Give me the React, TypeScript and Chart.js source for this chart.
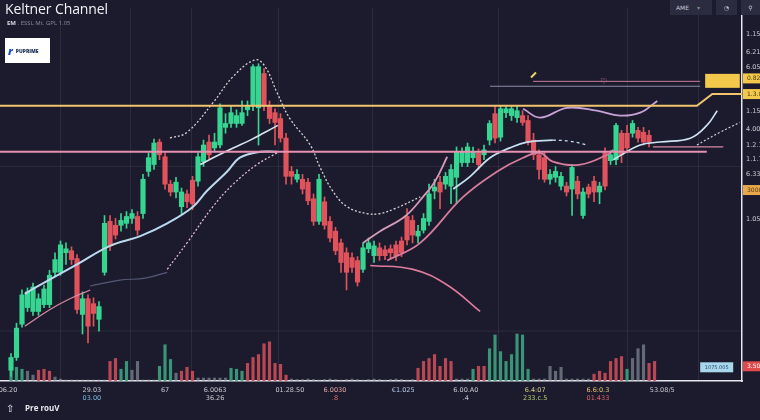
import React, { useEffect, useRef } from "react";
import { Chart, registerables } from "chart.js";
Chart.register(...registerables);

// ---------- candles (index = bar number) ----------
const openP = [
  1.030, 1.043, 1.077, 1.094, 1.090, 1.090, 1.097, 1.097, 1.130, 1.130,
  1.150, 1.152, 1.144, 1.087, 1.103, 1.098, 1.082, 1.130, 1.182, 1.178,
  1.178, 1.180, 1.185, 1.187, 1.190, 1.233, 1.240, 1.263, 1.248, 1.220,
  1.212, 1.197, 1.210, 1.224, 1.223, 1.243, 1.263, 1.257, 1.260, 1.278,
  1.282, 1.282, 1.282, 1.296, 1.300, 1.298, 1.333, 1.300, 1.293, 1.287,
  1.267, 1.233, 1.225, 1.225, 1.222, 1.205, 1.182, 1.202, 1.182, 1.172,
  1.160, 1.150, 1.145, 1.142, 1.133, 1.154, 1.147, 1.155, 1.153, 1.154,
  1.158, 1.162, 1.187, 1.183, 1.167, 1.173, 1.182, 1.213, 1.222, 1.220,
  1.218, 1.227, 1.242, 1.242, 1.247, 1.252, 1.250, 1.265, 1.292, 1.268,
  1.293, 1.290, 1.288, 1.290, 1.285, 1.265, 1.250, 1.247, 1.225, 1.227,
  1.218, 1.218, 1.215, 1.223, 1.188, 1.217, 1.223, 1.212, 1.252, 1.244,
  1.245, 1.272, 1.272, 1.272, 1.275, 1.273, 1.270,
];
const highP = [
  1.047, 1.078, 1.112, 1.114, 1.119, 1.108, 1.117, 1.132, 1.150, 1.162,
  1.160, 1.156, 1.148, 1.110, 1.107, 1.104, 1.100, 1.188, 1.188, 1.185,
  1.190, 1.192, 1.194, 1.192, 1.230, 1.252, 1.266, 1.266, 1.252, 1.224,
  1.227, 1.216, 1.214, 1.228, 1.252, 1.265, 1.270, 1.272, 1.302, 1.292,
  1.300, 1.296, 1.305, 1.305, 1.342, 1.343, 1.338, 1.305, 1.297, 1.292,
  1.272, 1.238, 1.235, 1.230, 1.226, 1.210, 1.230, 1.207, 1.187, 1.176,
  1.164, 1.155, 1.150, 1.146, 1.160, 1.165, 1.162, 1.160, 1.157, 1.158,
  1.162, 1.166, 1.195, 1.188, 1.178, 1.190, 1.220, 1.225, 1.228, 1.232,
  1.240, 1.258, 1.257, 1.262, 1.258, 1.256, 1.260, 1.285, 1.300, 1.300,
  1.300, 1.300, 1.300, 1.295, 1.290, 1.272, 1.255, 1.252, 1.235, 1.238,
  1.232, 1.222, 1.240, 1.228, 1.216, 1.220, 1.228, 1.222, 1.257, 1.254,
  1.282, 1.275, 1.280, 1.285, 1.278, 1.278, 1.275,
];
const lowP = [
  1.024, 1.040, 1.074, 1.090, 1.086, 1.086, 1.094, 1.094, 1.126, 1.127,
  1.138, 1.138, 1.088, 1.067, 1.058, 1.075, 1.070, 1.127, 1.152, 1.164,
  1.172, 1.175, 1.180, 1.168, 1.185, 1.228, 1.235, 1.245, 1.215, 1.208,
  1.206, 1.190, 1.196, 1.194, 1.218, 1.238, 1.246, 1.253, 1.257, 1.272,
  1.278, 1.278, 1.280, 1.290, 1.295, 1.260, 1.295, 1.282, 1.260, 1.263,
  1.220, 1.220, 1.222, 1.210, 1.199, 1.178, 1.179, 1.174, 1.161, 1.148,
  1.130, 1.112, 1.130, 1.116, 1.130, 1.150, 1.140, 1.142, 1.143, 1.144,
  1.142, 1.146, 1.158, 1.160, 1.160, 1.170, 1.178, 1.205, 1.195, 1.215,
  1.200, 1.200, 1.238, 1.238, 1.242, 1.235, 1.245, 1.260, 1.262, 1.264,
  1.288, 1.285, 1.283, 1.280, 1.260, 1.245, 1.225, 1.222, 1.220, 1.222,
  1.214, 1.208, 1.188, 1.205, 1.185, 1.206, 1.202, 1.200, 1.214, 1.240,
  1.240, 1.242, 1.252, 1.268, 1.263, 1.260, 1.258,
];
const closeP = [
  1.043, 1.073, 1.107, 1.110, 1.115, 1.103, 1.113, 1.127, 1.143, 1.158,
  1.154, 1.143, 1.092, 1.103, 1.075, 1.088, 1.095, 1.180, 1.157, 1.168,
  1.183, 1.187, 1.190, 1.173, 1.225, 1.247, 1.262, 1.250, 1.220, 1.212,
  1.222, 1.212, 1.202, 1.200, 1.248, 1.260, 1.250, 1.263, 1.298, 1.282,
  1.293, 1.290, 1.293, 1.300, 1.340, 1.340, 1.300, 1.287, 1.283, 1.267,
  1.228, 1.228, 1.230, 1.215, 1.203, 1.182, 1.225, 1.178, 1.165, 1.152,
  1.140, 1.130, 1.135, 1.120, 1.155, 1.160, 1.157, 1.147, 1.147, 1.150,
  1.147, 1.150, 1.163, 1.168, 1.172, 1.185, 1.210, 1.217, 1.212, 1.228,
  1.235, 1.253, 1.253, 1.258, 1.253, 1.240, 1.255, 1.282, 1.267, 1.297,
  1.297, 1.297, 1.295, 1.283, 1.263, 1.250, 1.235, 1.225, 1.230, 1.233,
  1.228, 1.212, 1.237, 1.210, 1.212, 1.210, 1.212, 1.218, 1.218, 1.250,
  1.280, 1.250, 1.257, 1.282, 1.267, 1.263, 1.263,
];

// ---------- volume ----------
const volume = [
  230, 140, 120, 100, 60, 110, 120, 100, 40, 20,
  10, 10, 10, 10, 10, 10, 10, 10, 200, 230,
  120, 200, 110, 200, 10, 10, 10, 150, 370, 220,
  80, 100, 140, 100, 30, 30, 30, 30, 30, 30,
  130, 120, 100, 180, 240, 270, 380, 400, 180, 170,
  60, 20, 15, 15, 20, 15, 10, 15, 20, 15,
  10, 15, 20, 15, 10, 15, 20, 15, 10, 15,
  20, 15, 10, 15, 130, 200, 230, 270, 150, 230,
  200, 20, 20, 20, 120, 150, 150, 330, 470, 300,
  200, 270, 480, 470, 120, 20, 20, 20, 150, 100,
  140, 20, 20, 20, 20, 20, 70, 100, 80, 200,
  230, 250, 120, 230, 330, 370, 180, 200,
];
const volumeTone =
  "GGGNNRRRNN" + "NNNNNNNNRR" + "GGNNNNNGGG" + "NRRRNNNNNN" +
  "GGGRRRRRRR" + "RNNNNNNNNN" + "NNNNNNNNNN" + "NNNNRRRRRR" +
  "RNNNGRRGGG" + "GGGGGNNNNN" + "NNNNNNRRRR" + "RRGNNNRR";

// ---------- channel / indicator lines [barIndex, price] ----------
const upperDotLeft = [[28.9, 1.267], [32, 1.273], [36.7, 1.303], [40.4, 1.330], [44.4, 1.347], [46.2, 1.340], [48.4, 1.313], [50.7, 1.287], [54.4, 1.260], [56.2, 1.237], [58.5, 1.213], [61.1, 1.197], [64.7, 1.190], [67.1, 1.190], [69.8, 1.195], [74.4, 1.207]];
const middleLeft = [[2.5, 1.108], [4, 1.113], [12, 1.138], [18, 1.157], [23.5, 1.167], [28.4, 1.180], [33.1, 1.197], [35.6, 1.213], [39.3, 1.233], [41.6, 1.247], [45.3, 1.253], [48.4, 1.253]];
const innerUpperLeft = [[34.4, 1.240], [37.1, 1.248], [40.4, 1.257], [43.5, 1.265], [46.2, 1.273], [48.5, 1.280]];
const lowerDotLeft = [[28.4, 1.133], [32, 1.160], [36.7, 1.197], [40.4, 1.220], [44.7, 1.240], [48.4, 1.252]];
const lowerPinkLeft = [[2.5, 1.075], [7.1, 1.092], [10.7, 1.103], [14.4, 1.112]];
const faintLeft = [[14.4, 1.116], [19.8, 1.122], [24.4, 1.124], [28.4, 1.130]];
const pinkRise = [[64, 1.160], [67.1, 1.172], [71.6, 1.187], [74.9, 1.207], [77.1, 1.223], [79.3, 1.248]];
const middleRight = [[80.4, 1.215], [83.5, 1.228], [87.1, 1.247], [90.7, 1.257], [93.8, 1.263], [98.5, 1.265]];
const middleRightDash = [[98.5, 1.265], [101.5, 1.264], [104.7, 1.260]];
const lowerPinkRight = [[68.4, 1.142], [74.4, 1.160], [82.2, 1.207], [88.4, 1.233], [93.1, 1.247], [96.2, 1.252], [98.5, 1.243], [103.5, 1.240], [108.4, 1.250], [109.5, 1.255]];
const upperRight = [[93.1, 1.297], [96.2, 1.288], [101.1, 1.298], [106.5, 1.295], [110.7, 1.290], [114.4, 1.293], [117.5, 1.305]];
const middleFarRight = [[109.5, 1.245], [114.4, 1.260], [118, 1.263], [123.5, 1.267], [126.5, 1.280], [128.4, 1.295]];
const dotFarRight = [[124.7, 1.260], [128.9, 1.273], [132.5, 1.283]];
const pinkArc = [[65.3, 1.137], [73.1, 1.133], [79.3, 1.117], [85.3, 1.090]];
const resistance = [[-2, 1.300], [124.7, 1.300], [127.5, 1.312], [132.9, 1.312]];
const support = [[-2, 1.253], [126.5, 1.253]];
const supportShort = [[116.7, 1.258], [129.5, 1.258]];
const topGrey = [[87.1, 1.320], [125.3, 1.320]];
const topPink = [[94.9, 1.325], [125.3, 1.325]];
const violetStub = [[127.5, 1.312], [132.9, 1.312]];
const faintRows = [1.238, 1.070];

// ---------- axes text ----------
const gridX = [15.3, 28, 37.6, 59.8, 71.6, 105.6, 118.5];
const yTickVals = [1.373, 1.355, 1.339, 1.294, 1.276, 1.260, 1.245, 1.230, 1.184];
const yTickText = ["1.1580", "6.2150", "6.0500", "1.1500", "4.0000", "1.2.150", "1.1.750", "6.3300", "1.0500"];
const xTickPos = [-0.7, 14.7, 28, 37.1, 50.7, 58.9, 71.3, 82.7, 95.3, 106.7, 118.4];
const xTickTop = ["06.20", "29.03", "67", "6.0063", "01.28.50", "6.0030", "€1.025", "6.00.A0", "6.4:07", "6.6:0.3", "53.08/5"];
const xTickBottom = ["", "03.00", "", "36.26", "", ".8", "", ".4", "233.c.5", "01.433", ""];
const xTopColor = ["#c8c8d2", "#c8c8d2", "#c8c8d2", "#c8c8d2", "#c8c8d2", "#e7a6a6", "#b9cbe6", "#c8c8d2", "#d6d08a", "#e8c070", "#c8c8d2"];
const xBottomColor = ["", "#7fb8e0", "", "#c8c8d2", "", "#e07070", "", "#c8c8d2", "#b8d070", "#e06060", ""];
const tagVals = [1.328, 1.312, 1.214, 1.034];
const tagText = ["0.82", "1.3.0", "3000", "3.500"];
const tagColor = ["#f3c84b", "#f3c84b", "#e9a84c", "#e04a4a"];
const boxSpan = [126.2, 132.5];
const boxPrice = 1.3255;
const infoBox = { from: 125.3, to: 131.3, price: 1.033, text: "1075.005" };
const pencilAt = [94.9, 1.332];
const heartAt = [107.8, 1.325];

const GREEN = "#37d592";
const RED = "#e0525c";
const toneColor = { G: "rgba(62,170,130,0.85)", R: "rgba(214,80,92,0.85)", N: "rgba(150,160,165,0.6)" };

const pts = (arr) => arr.map(([x, y]) => ({ x, y }));

const overlayPlugin = {
  id: "overlay",
  afterDatasetsDraw(chart) {
    const { ctx, scales } = chart;
    const xs = scales.x;
    const ys = scales.y;
    const right = chart.chartArea.right;
    ctx.save();
    const bx1 = xs.getPixelForValue(boxSpan[0]);
    const bx2 = xs.getPixelForValue(boxSpan[1]);
    const by = ys.getPixelForValue(boxPrice);
    ctx.fillStyle = "#f3c84b";
    ctx.fillRect(bx1, by - 7, bx2 - bx1, 14);
    const ix1 = xs.getPixelForValue(infoBox.from);
    const ix2 = xs.getPixelForValue(infoBox.to);
    const iy = ys.getPixelForValue(infoBox.price);
    ctx.fillStyle = "#a8d8ee";
    ctx.fillRect(ix1, iy - 5, ix2 - ix1, 10);
    ctx.fillStyle = "#2a4a66";
    ctx.font = "5px 'DejaVu Sans'";
    ctx.textAlign = "center";
    ctx.textBaseline = "middle";
    ctx.fillText(infoBox.text, (ix1 + ix2) / 2, iy);
    tagVals.forEach((v, i) => {
      const y = ys.getPixelForValue(v);
      ctx.fillStyle = tagColor[i];
      ctx.fillRect(right + 1, y - 5, 60, 10);
      ctx.fillStyle = i === 3 ? "#ffffff" : "#4a3a10";
      ctx.font = "6px 'DejaVu Sans'";
      ctx.textAlign = "left";
      ctx.fillText(tagText[i], right + 5, y + 0.5);
    });
    const px = xs.getPixelForValue(pencilAt[0]);
    const py = ys.getPixelForValue(pencilAt[1]);
    ctx.strokeStyle = "#f0d070";
    ctx.lineWidth = 2;
    ctx.beginPath();
    ctx.moveTo(px - 2, py + 3);
    ctx.lineTo(px + 3, py - 2);
    ctx.stroke();
    const hx = xs.getPixelForValue(heartAt[0]);
    const hy = ys.getPixelForValue(heartAt[1]);
    ctx.fillStyle = "#e0809e";
    ctx.font = "8px 'DejaVu Sans'";
    ctx.textAlign = "center";
    ctx.fillText("♡", hx, hy + 1);
    xTickPos.forEach((v, i) => {
      const x = xs.getPixelForValue(v);
      ctx.font = "6.5px 'DejaVu Sans'";
      ctx.textAlign = "center";
      ctx.fillStyle = xTopColor[i];
      ctx.fillText(xTickTop[i], Math.max(x, 8), 390);
      if (xTickBottom[i]) {
        ctx.fillStyle = xBottomColor[i];
        ctx.fillText(xTickBottom[i], x, 398);
      }
    });
    ctx.restore();
  },
};

export default function App() {
  const ref = useRef(null);
  useEffect(() => {
    const idx = openP.map((_, i) => i);
    const candleColor = idx.map((i) => (closeP[i] >= openP[i] ? GREEN : RED));
    const line = (data, color, width, dash, extra = {}) => ({
      type: "line",
      data: pts(data),
      borderColor: color,
      borderWidth: width,
      borderDash: dash || [],
      pointRadius: 0,
      fill: false,
      tension: 0.4,
      order: 0,
      ...extra,
    });
    const chart = new Chart(ref.current, {
      type: "bar",
      data: {
        datasets: [
          line(resistance, "#f2c46d", 2, null, { tension: 0 }),
          line(violetStub, "#8a86d8", 1.5, null, { tension: 0 }),
          line(support, "#e592b2", 2, null, { tension: 0 }),
          line(supportShort, "#d889a8", 1.2, null, { tension: 0 }),
          line(topGrey, "#8e8ea8", 1, null, { tension: 0 }),
          line(topPink, "#c77a9a", 1, null, { tension: 0 }),
          ...faintRows.map((v) => line([[-2, v], [132.9, v]], "rgba(255,255,255,0.07)", 1, null, { tension: 0, order: 5 })),
          line(upperDotLeft, "rgba(238,228,232,0.9)", 1.3, [2, 2]),
          line(middleLeft, "#bcd9ee", 2),
          line(innerUpperLeft, "#d6e4f0", 1.6),
          line(lowerDotLeft, "#e3bccb", 1.3, [2, 2]),
          line(lowerPinkLeft, "#d9899f", 1.2),
          line(faintLeft, "rgba(110,115,150,0.7)", 1.2),
          line(pinkRise, "#d59ab8", 1.8),
          line(middleRight, "#c6dff0", 1.8),
          line(middleRightDash, "#c6dff0", 1.3, [3, 3]),
          line(lowerPinkRight, "#d77c9c", 1.8),
          line(upperRight, "#c8a2d6", 1.8),
          line(middleFarRight, "#cfe3f3", 1.6),
          line(dotFarRight, "#d0d0dc", 1.2, [2, 2]),
          line(pinkArc, "#e07a9c", 1.6),
          {
            type: "bar",
            data: idx.map((i) => ({ x: i, y: [Math.min(openP[i], closeP[i]), Math.max(openP[i], closeP[i])] })),
            backgroundColor: candleColor,
            barThickness: 4.5,
            grouped: false,
            order: 1,
          },
          {
            type: "bar",
            data: idx.map((i) => ({ x: i, y: [lowP[i], highP[i]] })),
            backgroundColor: candleColor,
            barThickness: 1,
            grouped: false,
            order: 2,
          },
          {
            type: "bar",
            yAxisID: "yv",
            data: volume.map((v, i) => ({ x: i, y: v })),
            backgroundColor: volume.map((_, i) => toneColor[volumeTone[i]]),
            barThickness: 2.5,
            grouped: false,
            order: 3,
          },
        ],
      },
      options: {
        responsive: false,
        animation: false,
        devicePixelRatio: 1,
        layout: { padding: 0 },
        plugins: { legend: { display: false }, tooltip: { enabled: false } },
        scales: {
          x: {
            type: "linear",
            min: -2,
            max: 132.9,
            offset: false,
            position: "bottom",
            afterBuildTicks: (s) => { s.ticks = gridX.map((v) => ({ value: v })); },
            afterFit: (s) => { s.height = 39; },
            ticks: { display: false },
            grid: { color: "rgba(255,255,255,0.07)", drawTicks: false },
            border: { display: true, color: "#e6e6ee", width: 1.5 },
          },
          y: {
            position: "right",
            min: 1.019,
            max: 1.4,
            afterBuildTicks: (s) => { s.ticks = yTickVals.map((v) => ({ value: v })); },
            afterFit: (s) => { s.width = 58; },
            ticks: {
              autoSkip: false,
              padding: 4,
              color: "#c9c9d4",
              font: { size: 6.5, family: "'DejaVu Sans'" },
              callback: (_v, i) => yTickText[i],
            },
            grid: { display: false, drawTicks: false },
            border: { display: true, color: "#e6e6ee", width: 1.5 },
          },
          yv: { display: false, min: 0, max: 3810 },
        },
      },
      plugins: [overlayPlugin],
    });
    return () => chart.destroy();
  }, []);

  const btn = { position: "absolute", top: 0, height: 15, background: "#2b2c40", color: "#c8c8d4", fontSize: 6, display: "flex", alignItems: "center", justifyContent: "center", fontFamily: "'DejaVu Sans'" };
  return (
    <div style={{ position: "fixed", left: 0, top: 0, width: 760, height: 420, overflow: "hidden", background: "#1b1b2d", fontFamily: "'Open Sans', sans-serif" }}>
      <canvas ref={ref} width={800} height={420} style={{ position: "absolute", left: 0, top: 0, width: 800, height: 420 }} />
      <div style={{ position: "absolute", left: 5, top: -1, color: "#f2f2f6", fontSize: 14, fontWeight: 500, letterSpacing: -0.1 }}>Keltner Channel</div>
      <div style={{ position: "absolute", left: 7, top: 19, color: "#8a8a9c", fontSize: 6, whiteSpace: "nowrap" }}>
        <span style={{ color: "#d8d8e2", fontWeight: 700 }}>EM</span>  .  ESSL Mt.   GPL 1.05
      </div>
      <div style={{ position: "absolute", left: 5, top: 38, width: 45, height: 25, background: "#ffffff", display: "flex", alignItems: "center" }}>
        <span style={{ marginLeft: 3, color: "#1f55b8", fontWeight: 900, fontSize: 11, fontStyle: "italic" }}>r</span>
        <span style={{ marginLeft: 3, color: "#1c2b55", fontWeight: 800, fontSize: 5 }}>PUPRIME</span>
      </div>
      <div style={{ ...btn, left: 670, width: 42, justifyContent: "flex-start", paddingLeft: 6, boxSizing: "border-box" }}>AME <span style={{ marginLeft: 8, color: "#888" }}>▾</span></div>
      <div style={{ ...btn, left: 716, width: 21 }}>◔</div>
      <div style={{ ...btn, left: 741, width: 19 }}>⚲</div>
      <div style={{ position: "absolute", left: 6, top: 401, color: "#e8e8f0", fontSize: 10 }}>⇧</div>
      <div style={{ position: "absolute", left: 25, top: 402, color: "#e8e8f0", fontSize: 8, fontWeight: 700 }}>Pre rouV</div>
    </div>
  );
}
